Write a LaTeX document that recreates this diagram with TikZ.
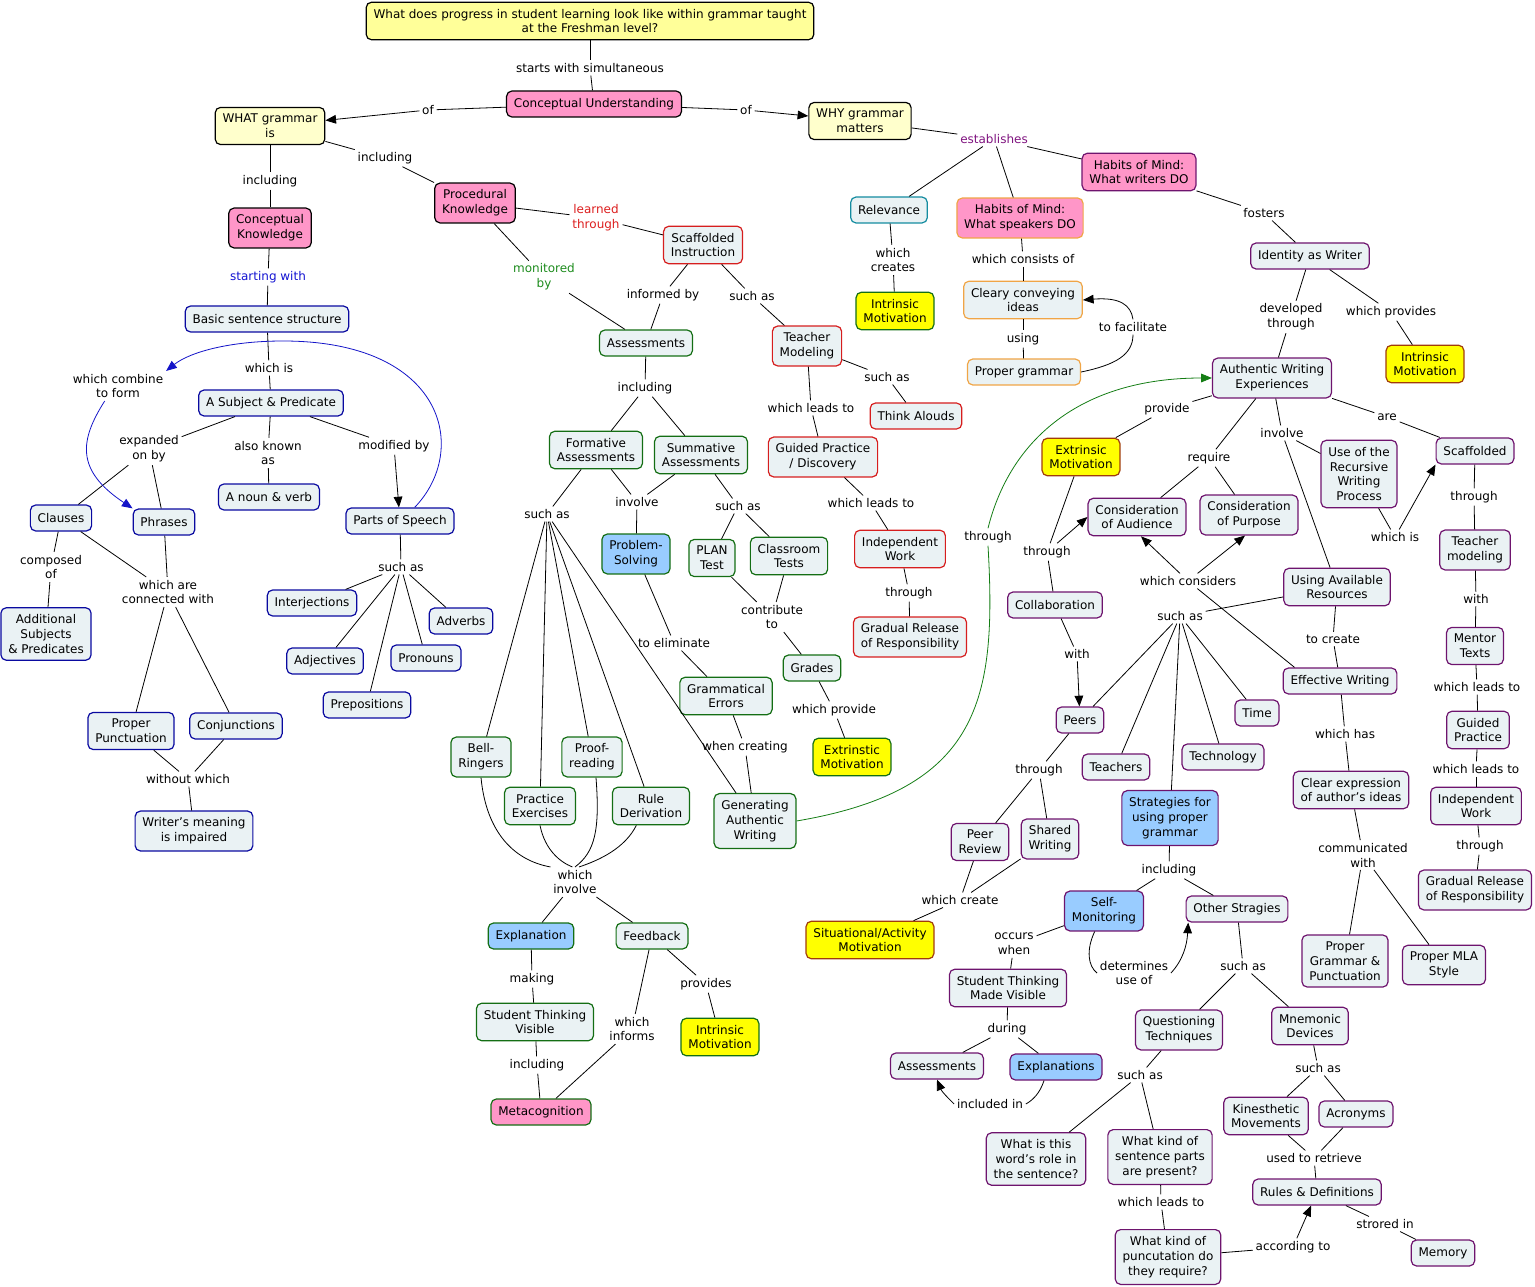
\documentclass[tikz,border=0pt]{standalone}
\usepackage{fontspec}
\setmainfont{DejaVu Sans}
\usepackage{tikz}
\usepackage{xcolor}
\usetikzlibrary{arrows.meta}
\definecolor{cTitle}{RGB}{255,255,153}
\definecolor{cHead}{RGB}{255,255,204}
\definecolor{cPink}{RGB}{255,150,200}
\definecolor{cPale}{RGB}{234,242,244}
\definecolor{cSky}{RGB}{153,204,255}
\definecolor{cGold}{RGB}{255,255,0}
\definecolor{cNavy}{RGB}{10,10,160}
\definecolor{cForest}{RGB}{20,110,20}
\definecolor{cRed}{RGB}{214,30,30}
\definecolor{cTeal}{RGB}{20,140,160}
\definecolor{cOrange}{RGB}{240,165,70}
\definecolor{cPlum}{RGB}{110,20,110}
\definecolor{cBrown}{RGB}{160,60,10}
\definecolor{cBlueTxt}{RGB}{20,20,210}
\definecolor{cRedTxt}{RGB}{220,30,30}
\definecolor{cGreenTxt}{RGB}{30,140,30}
\definecolor{cPurpleTxt}{RGB}{128,20,128}
\tikzset{
	concept/.style ={rectangle, rounded corners=4pt, draw=black, line width=0.9pt, fill=cPale, align=center, inner xsep=5.5pt, inner ysep=5pt, minimum height=19.5pt},
	gram/.style    ={concept, draw=cNavy},
	asmt/.style    ={concept, draw=cForest},
	scaf/.style    ={concept, draw=cRed},
	writ/.style    ={concept, draw=cPlum},
	speak/.style   ={concept, draw=cOrange},
	rust/.style    ={concept, draw=cBrown},
	pinkbox/.style ={fill=cPink},
	skybox/.style  ={fill=cSky},
	goldbox/.style ={fill=cGold},
	% linking phrases and connectors
	phrase/.style  ={inner sep=2pt, align=center},
	wire/.style    ={line width=0.6pt},
	wirearrow/.style={wire, -{Triangle[length=8pt, width=6.5pt]}},
	bluewire/.style={wire, draw={rgb,255:red,20;green,20;blue,200}},
	greenwire/.style={wire, draw={rgb,255:red,20;green,125;blue,20}},
}
\begin{document}
\begin{tikzpicture}[x=0.75pt, y=-0.75pt, every node/.style={font=\fontsize{9}{11.2}\selectfont}]
\useasboundingbox (0,0) rectangle (1535,1287);
\node[concept, fill=cTitle] (q) at (590,21) {What does progress in student learning look like within grammar taught\\at the Freshman level?};
\node[concept, pinkbox] (cu) at (594,104) {Conceptual Understanding};
\node[concept, fill=cHead] (what) at (270,126) {WHAT grammar\\is};
\node[concept, fill=cHead] (why) at (860,121) {WHY grammar\\matters};
\node[concept, pinkbox] (ck) at (270,228) {Conceptual\\Knowledge};
\node[concept, pinkbox] (pk) at (475,203) {Procedural\\Knowledge};
\node[gram] (bss) at (267,319) {Basic sentence structure};
\node[gram] (sp) at (271,403) {A Subject \& Predicate};
\node[gram] (nv) at (269,497) {A noun \& verb};
\node[gram] (pos) at (400,521) {Parts of Speech};
\node[gram] (cla) at (61,518) {Clauses};
\node[gram] (phr) at (164,522) {Phrases};
\node[gram] (addl) at (46,634) {Additional\\Subjects\\\& Predicates};
\node[gram] (ppun) at (131,731) {Proper\\Punctuation};
\node[gram] (conj) at (236,726) {Conjunctions};
\node[gram] (wmi) at (194,831) {Writer's meaning\\is impaired};
\node[gram] (intj) at (312,603) {Interjections};
\node[gram] (advb) at (461,621) {Adverbs};
\node[gram] (adj) at (325,661) {Adjectives};
\node[gram] (pron) at (426,658) {Pronouns};
\node[gram] (prep) at (367,705) {Prepositions};
\node[scaf] (scaf) at (703,245) {Scaffolded\\Instruction};
\node[asmt] (asm) at (646,343) {Assessments};
\node[scaf] (tmod) at (807,346) {Teacher\\Modeling};
\node[scaf] (thal) at (916,416) {Think Alouds};
\node[scaf] (gpd) at (823,457) {Guided Practice\\/ Discovery};
\node[scaf] (iw) at (900,549) {Independent\\Work};
\node[scaf] (grr) at (910,637) {Gradual Release\\of Responsibility};
\node[asmt] (fa) at (596,450) {Formative\\Assessments};
\node[asmt] (sa) at (701,455) {Summative\\Assessments};
\node[asmt, skybox] (ps) at (636,554) {Problem-\\Solving};
\node[asmt] (plan) at (712,558) {PLAN\\Test};
\node[asmt] (clt) at (789,556) {Classroom\\Tests};
\node[asmt] (grd) at (812,668) {Grades};
\node[asmt, goldbox] (em1) at (852,757) {Extrinstic\\Motivation};
\node[asmt] (ge) at (726,696) {Grammatical\\Errors};
\node[asmt] (gaw) at (755,821) {Generating\\Authentic\\Writing};
\node[asmt] (bell) at (481,757) {Bell-\\Ringers};
\node[asmt] (proof) at (592,757) {Proof-\\reading};
\node[asmt] (prac) at (540,806) {Practice\\Exercises};
\node[asmt] (rule) at (651,806) {Rule\\Derivation};
\node[asmt, skybox] (expl) at (531,936) {Explanation};
\node[asmt] (fb) at (652,936) {Feedback};
\node[asmt] (stv) at (535,1022) {Student Thinking\\Visible};
\node[asmt, pinkbox] (meta) at (541,1112) {Metacognition};
\node[asmt, goldbox] (im3) at (720,1037) {Intrinsic\\Motivation};
\node[concept, draw=cTeal] (rel) at (889,210) {Relevance};
\node[speak, pinkbox] (hms) at (1020,218) {Habits of Mind:\\What speakers DO};
\node[writ, pinkbox] (hmw) at (1139,172) {Habits of Mind:\\What writers DO};
\node[asmt, goldbox] (im1) at (895,311) {Intrinsic\\Motivation};
\node[speak] (ccv) at (1023,300) {Cleary conveying\\ideas};
\node[speak] (pg) at (1024,372) {Proper grammar};
\node[writ] (iaw) at (1310,256) {Identity as Writer};
\node[rust, goldbox] (im2) at (1425,364) {Intrinsic\\Motivation};
\node[writ] (awe) at (1272,378) {Authentic Writing\\Experiences};
\node[rust, goldbox] (em2) at (1081,457) {Extrinsic\\Motivation};
\node[writ] (urwp) at (1359,474) {Use of the\\Recursive\\Writing\\Process};
\node[writ] (scf) at (1475,451) {Scaffolded};
\node[writ] (tm2) at (1475,550) {Teacher\\modeling};
\node[writ] (ment) at (1475,646) {Mentor\\Texts};
\node[writ] (gp2) at (1478,730) {Guided\\Practice};
\node[writ] (iw2) at (1476,806) {Independent\\Work};
\node[writ] (grr2) at (1475,890) {Gradual Release\\of Responsibility};
\node[writ] (coa) at (1137,517) {Consideration\\of Audience};
\node[writ] (cop) at (1249,515) {Consideration\\of Purpose};
\node[writ] (col) at (1055,605) {Collaboration};
\node[writ] (peer) at (1080,720) {Peers};
\node[writ] (uar) at (1337,587) {Using Available\\Resources};
\node[writ] (ew) at (1340,681) {Effective Writing};
\node[writ] (ceai) at (1351,790) {Clear expression\\of author's ideas};
\node[writ] (pgp) at (1345,961) {Proper\\Grammar \&\\Punctuation};
\node[writ] (mla) at (1444,965) {Proper MLA\\Style};
\node[writ] (tchr) at (1116,767) {Teachers};
\node[writ] (tech) at (1223,757) {Technology};
\node[writ] (time) at (1257,713) {Time};
\node[writ, skybox] (spg) at (1170,818) {Strategies for\\using proper\\grammar};
\node[writ] (prv) at (980,842) {Peer\\Review};
\node[writ] (shw) at (1050,839) {Shared\\Writing};
\node[rust, goldbox] (sit) at (870,940) {Situational/Activity\\Motivation};
\node[writ, skybox] (smon) at (1104,911) {Self-\\Monitoring};
\node[writ] (oth) at (1237,909) {Other Stragies};
\node[writ] (stmv) at (1008,988) {Student Thinking\\Made Visible};
\node[writ] (asm2) at (937,1066) {Assessments};
\node[writ, skybox] (exs) at (1056,1067) {Explanations};
\node[writ] (qt) at (1179,1030) {Questioning\\Techniques};
\node[writ] (mnem) at (1310,1026) {Mnemonic\\Devices};
\node[writ] (wrole) at (1036,1159) {What is this\\word's role in\\the sentence?};
\node[writ] (wparts) at (1160,1157) {What kind of\\sentence parts\\are present?};
\node[writ] (wpunc) at (1168,1257) {What kind of\\puncutation do\\they require?};
\node[writ] (kin) at (1266,1116) {Kinesthetic\\Movements};
\node[writ] (acr) at (1356,1114) {Acronyms};
\node[writ] (rd) at (1317,1192) {Rules \& Definitions};
\node[writ] (mem) at (1443,1253) {Memory};
\node[phrase] (lstart) at (590,68) {starts with simultaneous};
\node[phrase] (lof1) at (428,110) {of};
\node[phrase] (lof2) at (746,110) {of};
\node[phrase] (linc1) at (270,181) {including};
\node[phrase] (linc2) at (385,158) {including};
\node[phrase, text=cBlueTxt] (lstw) at (268,277) {starting with};
\node[phrase] (lwis) at (269,368) {which is};
\node[phrase] (lcmb) at (118,386) {which combine\\to form};
\node[phrase] (lexp) at (149,449) {expanded\\on by};
\node[phrase] (laka) at (268,453) {also known\\as};
\node[phrase] (lmod) at (394,446) {modified by};
\node[phrase] (lcomp) at (51,567) {composed\\of};
\node[phrase] (lconn) at (168,592) {which are\\connected with};
\node[phrase] (lwo) at (188,779) {without which};
\node[phrase] (lsa1) at (401,567) {such as};
\node[phrase, text=cRedTxt] (llrn) at (596,218) {learned\\through};
\node[phrase, text=cGreenTxt] (lmon) at (544,277) {monitored\\by};
\node[phrase] (linf) at (663,295) {informed by};
\node[phrase] (lsa2) at (752,296) {such as};
\node[phrase] (lsa3) at (887,377) {such as};
\node[phrase] (llt1) at (811,408) {which leads to};
\node[phrase] (llt2) at (871,503) {which leads to};
\node[phrase] (lthr1) at (909,593) {through};
\node[phrase] (linc3) at (645,388) {including};
\node[phrase] (lsa4) at (547,514) {such as};
\node[phrase] (linv1) at (637,502) {involve};
\node[phrase] (lsa5) at (738,506) {such as};
\node[phrase] (lctb) at (772,617) {contribute\\to};
\node[phrase] (lprov1) at (834,710) {which provide};
\node[phrase] (lelim) at (674,643) {to eliminate};
\node[phrase] (lwc) at (745,747) {when creating};
\node[phrase] (lthr2) at (988,537) {through};
\node[phrase] (lwinv) at (575,882) {which\\involve};
\node[phrase] (lmak) at (532,979) {making};
\node[phrase] (linc4) at (537,1065) {including};
\node[phrase] (linfm) at (632,1029) {which\\informs};
\node[phrase] (lprov2) at (706,984) {provides};
\node[phrase, text=cPurpleTxt] (lest) at (994,139) {establishes};
\node[phrase] (lcre) at (893,260) {which\\creates};
\node[phrase] (lcons) at (1023,259) {which consists of};
\node[phrase] (lusing) at (1023,339) {using};
\node[phrase] (lfac) at (1133,327) {to facilitate};
\node[phrase] (lfost) at (1264,213) {fosters};
\node[phrase] (ldev) at (1291,317) {developed\\through};
\node[phrase] (lwprov) at (1391,312) {which provides};
\node[phrase] (lprov3) at (1167,409) {provide};
\node[phrase] (lreq) at (1209,458) {require};
\node[phrase] (linv2) at (1282,433) {involve};
\node[phrase] (lare) at (1387,417) {are};
\node[phrase] (lwis2) at (1395,537) {which is};
\node[phrase] (lthr3) at (1474,497) {through};
\node[phrase] (lwith1) at (1476,599) {with};
\node[phrase] (llt3) at (1477,687) {which leads to};
\node[phrase] (llt4) at (1476,769) {which leads to};
\node[phrase] (lthr4) at (1480,846) {through};
\node[phrase] (lthr5) at (1047,552) {through};
\node[phrase] (lwcons) at (1188,581) {which considers};
\node[phrase] (lwith2) at (1077,654) {with};
\node[phrase] (lsa6) at (1180,616) {such as};
\node[phrase] (lcrt) at (1333,639) {to create};
\node[phrase] (lhas) at (1345,734) {which has};
\node[phrase] (lcomm) at (1363,855) {communicated\\with};
\node[phrase] (lthr6) at (1039,770) {through};
\node[phrase] (lwcr) at (960,900) {which create};
\node[phrase] (linc5) at (1169,870) {including};
\node[phrase] (locc) at (1014,944) {occurs\\when};
\node[phrase] (ldet) at (1134,973) {determines\\use of};
\node[phrase] (ldur) at (1007,1029) {during};
\node[phrase] (linc6) at (990,1104) {included in};
\node[phrase] (lsa7) at (1243,966) {such as};
\node[phrase] (lsa8) at (1140,1075) {such as};
\node[phrase] (lsa9) at (1318,1068) {such as};
\node[phrase] (llt5) at (1161,1202) {which leads to};
\node[phrase] (lacc) at (1293,1247) {according to};
\node[phrase] (lret) at (1314,1158) {used to retrieve};
\node[phrase] (lstor) at (1385,1224) {strored in};
\draw[wire] (q) -- (lstart);
\draw[wire] (lstart) -- (cu);
\draw[wire] (cu) -- (lof1);
\draw[wirearrow] (lof1) -- (what);
\draw[wire] (cu) -- (lof2);
\draw[wirearrow] (lof2) -- (why);
\draw[wire] (what) -- (linc1);
\draw[wire] (linc1) -- (ck);
\draw[wire] (what) -- (linc2);
\draw[wire] (linc2) -- (pk);
\draw[wire] (ck) -- (lstw);
\draw[wire] (lstw) -- (bss);
\draw[wire] (bss) -- (lwis);
\draw[wire] (lwis) -- (sp);
\draw[wire] (sp) -- (lexp);
\draw[wire] (lexp) -- (cla);
\draw[wire] (lexp) -- (phr);
\draw[wire] (sp) -- (laka);
\draw[wire] (laka) -- (nv);
\draw[wire] (sp) -- (lmod);
\draw[wirearrow] (lmod) -- (pos);
\draw[bluewire, -{Triangle[length=8pt, width=6.5pt]}] ([xshift=11pt]pos.north) .. controls (470,450) and (445,341) .. (283,341) .. controls (230,341) and (190,352) .. (lcmb.north east);
\draw[bluewire, -{Triangle[length=8pt, width=6.5pt]}] ([xshift=-10pt]lcmb.south) .. controls (80,440) and (75,470) .. (phr.north west);
\draw[wire] (cla) -- (lcomp);
\draw[wire] (lcomp) -- (addl);
\draw[wire] (cla) -- (lconn);
\draw[wire] (phr) -- (lconn);
\draw[wire] (lconn) -- (ppun);
\draw[wire] (lconn) -- (conj);
\draw[wire] (ppun) -- (lwo);
\draw[wire] (conj) -- (lwo);
\draw[wire] (lwo) -- (wmi);
\draw[wire] (pos) -- (lsa1);
\draw[wire] (lsa1) -- (intj);
\draw[wire] (lsa1) -- (advb);
\draw[wire] (lsa1) -- (adj);
\draw[wire] (lsa1) -- (pron);
\draw[wire] (lsa1) -- (prep);
\draw[wire] (pk) -- (llrn);
\draw[wire] (llrn) -- (scaf);
\draw[wire] (pk) -- (lmon);
\draw[wire] (lmon) -- (asm);
\draw[wire] (scaf) -- (linf);
\draw[wire] (linf) -- (asm);
\draw[wire] (scaf) -- (lsa2);
\draw[wire] (lsa2) -- (tmod);
\draw[wire] (tmod) -- (lsa3);
\draw[wire] (lsa3) -- (thal);
\draw[wire] (tmod) -- (llt1);
\draw[wire] (llt1) -- (gpd);
\draw[wire] (gpd) -- (llt2);
\draw[wire] (llt2) -- (iw);
\draw[wire] (iw) -- (lthr1);
\draw[wire] (lthr1) -- (grr);
\draw[wire] (asm) -- (linc3);
\draw[wire] (linc3) -- (fa);
\draw[wire] (linc3) -- (sa);
\draw[wire] (fa) -- (lsa4);
\draw[wire] (lsa4) -- (bell);
\draw[wire] (lsa4) -- (prac);
\draw[wire] (lsa4) -- (proof);
\draw[wire] (lsa4) -- (rule);
\draw[wire] (lsa4) -- (gaw);
\draw[wire] (fa) -- (linv1);
\draw[wire] (sa) -- (linv1);
\draw[wire] (linv1) -- (ps);
\draw[wire] (sa) -- (lsa5);
\draw[wire] (lsa5) -- (plan);
\draw[wire] (lsa5) -- (clt);
\draw[wire] (plan) -- (lctb);
\draw[wire] (clt) -- (lctb);
\draw[wire] (lctb) -- (grd);
\draw[wire] (grd) -- (lprov1);
\draw[wire] (lprov1) -- (em1);
\draw[wire] (ps) -- (lelim);
\draw[wire] (lelim) -- (ge);
\draw[wire] (ge) -- (lwc);
\draw[wire] (lwc) -- (gaw);
\draw[greenwire] (gaw.east) .. controls (980,790) and (997,700) .. (lthr2.south);
\draw[greenwire, -{Triangle[length=8pt, width=6.5pt]}] (lthr2.north) .. controls (1010,440) and (1080,378) .. (awe.west);
\draw[wire] (bell.south) .. controls (486,830) and (512,860) .. (lwinv.north west);
\draw[wire] (prac.south) .. controls (545,850) and (560,862) .. ([xshift=-2pt]lwinv.north);
\draw[wire] ([xshift=3pt]proof.south) .. controls (600,830) and (595,852) .. (lwinv.north);
\draw[wire] ([xshift=-11pt]rule.south) .. controls (625,848) and (600,860) .. ([xshift=3pt]lwinv.north);
\draw[wire] (lwinv) -- (expl);
\draw[wire] (lwinv) -- (fb);
\draw[wire] (expl) -- (lmak);
\draw[wire] (lmak) -- (stv);
\draw[wire] (stv) -- (linc4);
\draw[wire] (linc4) -- (meta);
\draw[wire] (fb) -- (linfm);
\draw[wire] (linfm) -- (meta);
\draw[wire] (fb) -- (lprov2);
\draw[wire] (lprov2) -- (im3);
\draw[wire] (why) -- (lest);
\draw[wire] (lest) -- (rel);
\draw[wire] (lest) -- (hms);
\draw[wire] (lest) -- (hmw);
\draw[wire] (rel) -- (lcre);
\draw[wire] (lcre) -- (im1);
\draw[wire] (hms) -- (lcons);
\draw[wire] (lcons) -- (ccv);
\draw[wire] (ccv) -- (lusing);
\draw[wire] (lusing) -- (pg);
\draw[wire] (pg.east) .. controls (1115,365) and (1133,355) .. (lfac.south);
\draw[wirearrow] (lfac.north) .. controls (1131,305) and (1120,297) .. (ccv.east);
\draw[wire] (hmw) -- (lfost);
\draw[wire] (lfost) -- (iaw);
\draw[wire] (iaw) -- (ldev);
\draw[wire] (ldev) -- (awe);
\draw[wire] (iaw) -- (lwprov);
\draw[wire] (lwprov) -- (im2);
\draw[wire] (awe) -- (lprov3);
\draw[wire] (lprov3) -- (em2);
\draw[wire] (awe) -- (lreq);
\draw[wire] (lreq) -- (coa);
\draw[wire] (lreq) -- (cop);
\draw[wire] (awe) -- (linv2);
\draw[wire] (linv2) -- (urwp);
\draw[wire] (linv2) -- (uar);
\draw[wire] (awe) -- (lare);
\draw[wire] (lare) -- (scf);
\draw[wire] (urwp) -- (lwis2);
\draw[wirearrow] (lwis2) -- (scf.south west);
\draw[wire] (scf) -- (lthr3);
\draw[wire] (lthr3) -- (tm2);
\draw[wire] (tm2) -- (lwith1);
\draw[wire] (lwith1) -- (ment);
\draw[wire] (ment) -- (llt3);
\draw[wire] (llt3) -- (gp2);
\draw[wire] (gp2) -- (llt4);
\draw[wire] (llt4) -- (iw2);
\draw[wire] (iw2) -- (lthr4);
\draw[wire] (lthr4) -- (grr2);
\draw[wire] (em2) -- (lthr5);
\draw[wire] (col) -- (lthr5);
\draw[wirearrow] (lthr5) -- (coa.west);
\draw[wire] (col) -- (lwith2);
\draw[wirearrow] (lwith2) -- (peer);
\draw[wire] (uar) -- (lsa6);
\draw[wire] (lsa6) -- (peer);
\draw[wire] (lsa6) -- (tchr);
\draw[wire] (lsa6) -- (spg);
\draw[wire] (lsa6) -- (tech);
\draw[wire] (lsa6) -- (time);
\draw[wire] (uar) -- (lcrt);
\draw[wire] (lcrt) -- (ew);
\draw[wire] ([xshift=9pt]ew.north west) -- (lwcons);
\draw[wirearrow] (lwcons) -- ([xshift=3pt]coa.south);
\draw[wirearrow] (lwcons) -- ([xshift=-3pt]cop.south);
\draw[wire] (ew) -- (lhas);
\draw[wire] (lhas) -- (ceai);
\draw[wire] (ceai) -- (lcomm);
\draw[wire] (lcomm) -- (pgp);
\draw[wire] (lcomm) -- (mla);
\draw[wire] (peer) -- (lthr6);
\draw[wire] (lthr6) -- (prv);
\draw[wire] (lthr6) -- (shw);
\draw[wire] (prv) -- (lwcr);
\draw[wire] (shw) -- (lwcr);
\draw[wire] (lwcr) -- (sit);
\draw[wire] (spg) -- (linc5);
\draw[wire] (linc5) -- (smon);
\draw[wire] (linc5) -- (oth);
\draw[wire] (smon) -- (locc);
\draw[wire] (locc) -- (stmv);
\draw[wire] ([xshift=-7pt]smon.south) .. controls (1086,950) and (1088,966) .. (ldet.west);
\draw[wirearrow] (ldet.east) .. controls (1183,960) and (1187,945) .. ([xshift=2pt]oth.south west);
\draw[wire] (stmv) -- (ldur);
\draw[wire] (ldur) -- (asm2);
\draw[wire] (ldur) -- (exs);
\draw[wire] ([xshift=-9pt]exs.south) .. controls (1040,1093) and (1033,1100) .. (linc6.east);
\draw[wirearrow] (linc6.west) .. controls (950,1100) and (942,1092) .. (asm2.south);
\draw[wire] (oth) -- (lsa7);
\draw[wire] (lsa7) -- (qt);
\draw[wire] (lsa7) -- (mnem);
\draw[wire] (qt) -- (lsa8);
\draw[wire] (lsa8) -- (wrole);
\draw[wire] (lsa8) -- (wparts);
\draw[wire] (wparts) -- (llt5);
\draw[wire] (llt5) -- (wpunc);
\draw[wire] (wpunc) -- (lacc);
\draw[wirearrow] (lacc) -- (rd);
\draw[wire] (mnem) -- (lsa9);
\draw[wire] (lsa9) -- (kin);
\draw[wire] (lsa9) -- (acr);
\draw[wire] (kin) -- (lret);
\draw[wire] (acr) -- (lret);
\draw[wire] (lret) -- (rd);
\draw[wire] (rd) -- (lstor);
\draw[wire] (lstor) -- (mem);
\end{tikzpicture}
\end{document}
